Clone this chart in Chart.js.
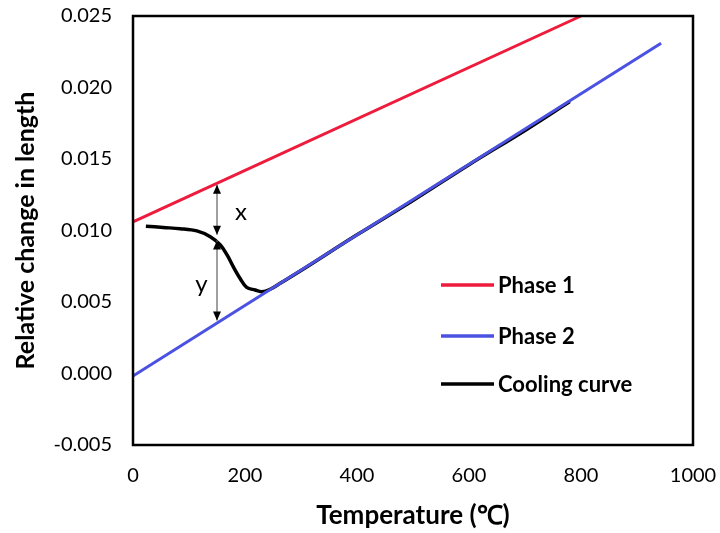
<!DOCTYPE html>
<html>
<head>
<meta charset="utf-8">
<script src="https://cdn.jsdelivr.net/npm/chart.js@4.4.1/dist/chart.umd.min.js"></script>
<style>
  html, body { margin: 0; padding: 0; background: #fff; }
  #wrap { width: 720px; height: 533px; }
</style>
</head>
<body>
<div id="wrap"><canvas id="dilatometry-chart"></canvas></div>
<script>
// temperature in degC, strain = relative change in length
const phase1Temp = [0, 800];
const phase1Strain = [0.0106, 0.0250];

const phase2Temp = [0, 943];
const phase2Strain = [-0.00017, 0.0231];

const coolingTemp = [23, 54, 84, 114, 138, 156, 168, 179, 191, 203, 218, 230, 245, 263, 300, 400, 500, 600, 700, 780];
const coolingStrain = [0.01030, 0.01021, 0.01013, 0.00997, 0.00957, 0.00899, 0.00829, 0.00747, 0.00666, 0.00603,
    0.00584, 0.00572, 0.00589, 0.00631, 0.00720, 0.00970, 0.01210, 0.01460, 0.01700, 0.01902];

const xTicks = [0, 200, 400, 600, 800, 1000];
const yTicks = [-0.005, 0.000, 0.005, 0.010, 0.015, 0.020, 0.025];

// the x / y gap markers, read at one temperature
const gapTemp = 150;
const gapX = [0.0132, 0.0097];
const gapY = [0.0093, 0.0037];
const gapLabels = [
    { text: 'x', temp: 193, strain: 0.01129 },
    { text: 'y', temp: 122, strain: 0.00626 },
];

const FONT = 'Lato';

const toPoints = (xs, ys) => xs.map((x, i) => ({ x: x, y: ys[i] }));

const frameAndMarks = {
    id: 'frameAndMarks',
    afterDatasetsDraw(chart) {
        const { ctx, chartArea, scales } = chart;
        const xs = scales.x;
        const ys = scales.y;
        ctx.save();

        // gap arrows
        const px = xs.getPixelForValue(gapTemp);
        [gapX, gapY].forEach(([a, b]) => {
            const y1 = ys.getPixelForValue(a);
            const y2 = ys.getPixelForValue(b);
            ctx.strokeStyle = '#7f7f7f';
            ctx.lineWidth = 1.5;
            ctx.beginPath();
            ctx.moveTo(px, y1);
            ctx.lineTo(px, y2);
            ctx.stroke();
            ctx.fillStyle = '#000';
            [[y1, 1], [y2, -1]].forEach(([tip, dir]) => {
                ctx.beginPath();
                ctx.moveTo(px, tip);
                ctx.lineTo(px - 4, tip + dir * 9);
                ctx.lineTo(px + 4, tip + dir * 9);
                ctx.closePath();
                ctx.fill();
            });
        });

        ctx.fillStyle = '#000';
        ctx.font = '24px ' + FONT;
        ctx.textAlign = 'center';
        ctx.textBaseline = 'middle';
        gapLabels.forEach(l => {
            ctx.fillText(l.text, xs.getPixelForValue(l.temp), ys.getPixelForValue(l.strain));
        });

        // legend inside the plot
        ctx.font = 'bold 22px ' + FONT;
        ctx.textAlign = 'left';
        const legendY = [285, 336, 384];
        chart.data.datasets.forEach((ds, i) => {
            ctx.strokeStyle = ds.borderColor;
            ctx.lineWidth = 3.5;
            ctx.beginPath();
            ctx.moveTo(441, legendY[i]);
            ctx.lineTo(494, legendY[i]);
            ctx.stroke();
            ctx.fillText(ds.label, 498, legendY[i] + 1);
        });

        // box round the plot
        ctx.strokeStyle = '#000';
        ctx.lineWidth = 2.5;
        ctx.strokeRect(chartArea.left, chartArea.top, chartArea.right - chartArea.left, chartArea.bottom - chartArea.top);
        ctx.restore();
    }
};

new Chart(document.getElementById('dilatometry-chart'), {
    type: 'line',
    data: {
        datasets: [{
            label: 'Phase 1',
            data: toPoints(phase1Temp, phase1Strain),
            borderColor: '#EE1B3C',
            borderWidth: 3,
            pointRadius: 0,
        }, {
            label: 'Phase 2',
            data: toPoints(phase2Temp, phase2Strain),
            borderColor: '#4B52E2',
            borderWidth: 3,
            pointRadius: 0,
        }, {
            label: 'Cooling curve',
            data: toPoints(coolingTemp, coolingStrain),
            borderColor: '#000000',
            borderWidth: 3.5,
            pointRadius: 0,
            tension: 0.35,
        }],
    },
    options: {
        responsive: true,
        maintainAspectRatio: false,
        animation: false,
        clip: false,
        layout: { padding: { left: 0, right: 27, top: 16, bottom: 0 } },
        plugins: {
            legend: { display: false },
            tooltip: { enabled: false },
        },
        scales: {
            x: {
                type: 'linear',
                min: 0,
                max: 1000,
                afterBuildTicks: (scale) => { scale.ticks = xTicks.map(v => ({ value: v })); },
                afterFit: (scale) => {
                    scale.height = 88;
                    scale.paddingLeft = 0;
                    scale.paddingRight = 0;
                },
                grid: { display: false, drawTicks: false },
                border: { display: false },
                ticks: {
                    color: '#000',
                    padding: 19,
                    font: { family: FONT, size: 20 },
                    callback: (v) => String(v),
                },
                title: {
                    display: true,
                    text: 'Temperature (℃)',
                    color: '#000',
                    padding: { top: 0, bottom: 2 },
                    font: { family: FONT, size: 26, weight: 'bold' },
                },
            },
            y: {
                type: 'linear',
                min: -0.005,
                max: 0.025,
                afterBuildTicks: (scale) => { scale.ticks = yTicks.map(v => ({ value: v })); },
                afterFit: (scale) => {
                    scale.width = 133;
                    scale.paddingTop = 0;
                    scale.paddingBottom = 0;
                },
                grid: { display: false, drawTicks: false },
                border: { display: false },
                ticks: {
                    color: '#000',
                    padding: 21,
                    font: { family: FONT, size: 20 },
                    callback: (v) => Number(v).toFixed(3),
                },
                title: {
                    display: true,
                    text: 'Relative change in length',
                    color: '#000',
                    padding: { top: 11, bottom: 0 },
                    font: { family: FONT, size: 25, weight: 'bold' },
                },
            },
        },
    },
    plugins: [frameAndMarks],
});
</script>
</body>
</html>
